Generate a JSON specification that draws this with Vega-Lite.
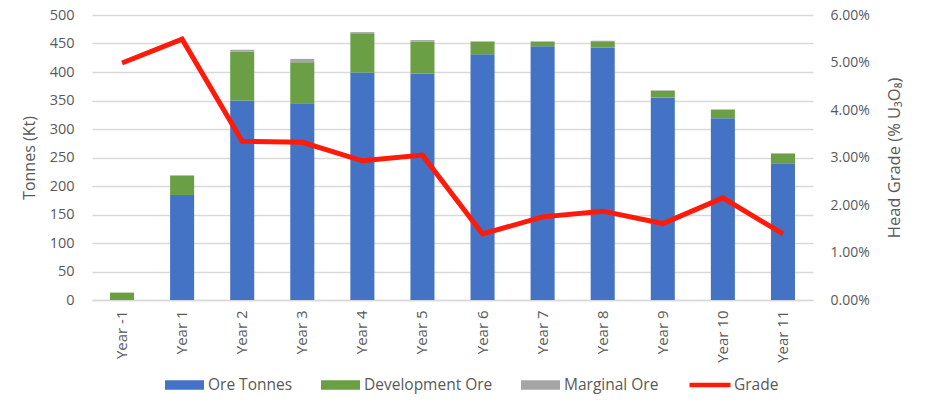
{
  "$schema": "https://vega.github.io/schema/vega-lite/v6.json",
  "width": 721,
  "height": 285,
  "autosize": {"type": "none"},
  "padding": {"left": 92, "top": 15, "right": 117, "bottom": 109},
  "background": "white",
  "datasets": {
    "bars": [
      {"year": "Year -1", "series": "Ore Tonnes", "ord": 1, "kt": 0},
      {"year": "Year -1", "series": "Development Ore", "ord": 2, "kt": 13},
      {"year": "Year -1", "series": "Marginal Ore", "ord": 3, "kt": 0},
      {"year": "Year 1", "series": "Ore Tonnes", "ord": 1, "kt": 184},
      {"year": "Year 1", "series": "Development Ore", "ord": 2, "kt": 34},
      {"year": "Year 1", "series": "Marginal Ore", "ord": 3, "kt": 1},
      {"year": "Year 2", "series": "Ore Tonnes", "ord": 1, "kt": 350},
      {"year": "Year 2", "series": "Development Ore", "ord": 2, "kt": 86},
      {"year": "Year 2", "series": "Marginal Ore", "ord": 3, "kt": 3},
      {"year": "Year 3", "series": "Ore Tonnes", "ord": 1, "kt": 345},
      {"year": "Year 3", "series": "Development Ore", "ord": 2, "kt": 72},
      {"year": "Year 3", "series": "Marginal Ore", "ord": 3, "kt": 6},
      {"year": "Year 4", "series": "Ore Tonnes", "ord": 1, "kt": 399},
      {"year": "Year 4", "series": "Development Ore", "ord": 2, "kt": 69},
      {"year": "Year 4", "series": "Marginal Ore", "ord": 3, "kt": 2},
      {"year": "Year 5", "series": "Ore Tonnes", "ord": 1, "kt": 397},
      {"year": "Year 5", "series": "Development Ore", "ord": 2, "kt": 56},
      {"year": "Year 5", "series": "Marginal Ore", "ord": 3, "kt": 3},
      {"year": "Year 6", "series": "Ore Tonnes", "ord": 1, "kt": 431},
      {"year": "Year 6", "series": "Development Ore", "ord": 2, "kt": 22},
      {"year": "Year 6", "series": "Marginal Ore", "ord": 3, "kt": 1},
      {"year": "Year 7", "series": "Ore Tonnes", "ord": 1, "kt": 445},
      {"year": "Year 7", "series": "Development Ore", "ord": 2, "kt": 8},
      {"year": "Year 7", "series": "Marginal Ore", "ord": 3, "kt": 1},
      {"year": "Year 8", "series": "Ore Tonnes", "ord": 1, "kt": 443},
      {"year": "Year 8", "series": "Development Ore", "ord": 2, "kt": 11},
      {"year": "Year 8", "series": "Marginal Ore", "ord": 3, "kt": 1},
      {"year": "Year 9", "series": "Ore Tonnes", "ord": 1, "kt": 355},
      {"year": "Year 9", "series": "Development Ore", "ord": 2, "kt": 12},
      {"year": "Year 9", "series": "Marginal Ore", "ord": 3, "kt": 1},
      {"year": "Year 10", "series": "Ore Tonnes", "ord": 1, "kt": 319},
      {"year": "Year 10", "series": "Development Ore", "ord": 2, "kt": 15},
      {"year": "Year 10", "series": "Marginal Ore", "ord": 3, "kt": 0.5},
      {"year": "Year 11", "series": "Ore Tonnes", "ord": 1, "kt": 240},
      {"year": "Year 11", "series": "Development Ore", "ord": 2, "kt": 17},
      {"year": "Year 11", "series": "Marginal Ore", "ord": 3, "kt": 0.5}
    ],
    "grade": [
      {"year": "Year -1", "grade": 0.0499},
      {"year": "Year 1", "grade": 0.0549},
      {"year": "Year 2", "grade": 0.0334},
      {"year": "Year 3", "grade": 0.0332},
      {"year": "Year 4", "grade": 0.0293},
      {"year": "Year 5", "grade": 0.0305},
      {"year": "Year 6", "grade": 0.0139},
      {"year": "Year 7", "grade": 0.0175},
      {"year": "Year 8", "grade": 0.0187},
      {"year": "Year 9", "grade": 0.0161},
      {"year": "Year 10", "grade": 0.0215},
      {"year": "Year 11", "grade": 0.0139}
    ]
  },
  "encoding": {
    "x": {
      "field": "year",
      "type": "nominal",
      "sort": ["Year -1", "Year 1", "Year 2", "Year 3", "Year 4", "Year 5", "Year 6", "Year 7", "Year 8", "Year 9", "Year 10", "Year 11"],
      "scale": {"paddingInner": 0.6, "paddingOuter": 0.3},
      "axis": {
        "title": null,
        "labelAngle": -90,
        "labelFontSize": 15,
        "labelPadding": 10,
        "ticks": false,
        "domainColor": "#D9D9D9",
        "domainWidth": 1.5
      }
    }
  },
  "layer": [
    {
      "data": {"name": "bars"},
      "mark": {"type": "bar"},
      "encoding": {
        "y": {
          "field": "kt",
          "type": "quantitative",
          "aggregate": "sum",
          "stack": "zero",
          "scale": {"domain": [0, 500]},
          "axis": {
            "title": "Tonnes (Kt)",
            "values": [0, 50, 100, 150, 200, 250, 300, 350, 400, 450, 500],
            "labelPadding": 18,
            "titlePadding": 12,
            "labelFontSize": 14.5,
            "titleFontSize": 16
          }
        },
        "color": {
          "field": "series",
          "type": "nominal",
          "scale": {
            "domain": ["Ore Tonnes", "Development Ore", "Marginal Ore"],
            "range": ["#4472C4", "#6A9F45", "#A5A5A5"]
          },
          "legend": {
            "orient": "none",
            "legendX": 73,
            "legendY": 350.5,
            "direction": "horizontal",
            "title": null,
            "symbolType": "M-1,-0.24H1V0.24H-1Z",
            "symbolSize": 1521,
            "symbolStrokeWidth": 0,
            "labelOffset": 4,
            "columnPadding": 28
          }
        },
        "order": {"field": "ord", "type": "quantitative"}
      }
    },
    {
      "data": {"name": "grade"},
      "mark": {"type": "line", "strokeWidth": 5, "strokeJoin": "miter", "strokeCap": "butt"},
      "encoding": {
        "y": {
          "field": "grade",
          "type": "quantitative",
          "scale": {"domain": [0, 0.06]},
          "axis": {
            "orient": "right",
            "title": "Head Grade (% U₃O₈)",
            "titleAngle": 270,
            "format": ".2%",
            "values": [0, 0.01, 0.02, 0.03, 0.04, 0.05, 0.06],
            "grid": false,
            "labelPadding": 17,
            "titlePadding": 33,
            "labelFontSize": 14,
            "titleFontSize": 16.5
          }
        },
        "stroke": {
          "datum": "Grade",
          "scale": {"domain": ["Grade"], "range": ["#FF1A0A"]},
          "legend": {
            "orient": "none",
            "legendX": 595,
            "legendY": 347,
            "title": null,
            "symbolType": "stroke",
            "symbolSize": 1681,
            "symbolStrokeWidth": 4.5,
            "labelOffset": 1
          }
        }
      }
    }
  ],
  "resolve": {"scale": {"y": "independent"}},
  "config": {
    "font": "Open Sans",
    "view": {"stroke": null},
    "axis": {
      "labelColor": "#595959",
      "titleColor": "#595959",
      "titleFontWeight": "normal",
      "labelFont": "Open Sans",
      "titleFont": "Open Sans",
      "gridColor": "#D9D9D9",
      "gridWidth": 1.5,
      "domain": false,
      "ticks": false
    },
    "axisX": {"domain": true},
    "legend": {
      "labelColor": "#595959",
      "labelFontSize": 15.5,
      "labelFont": "Open Sans"
    }
  }
}
